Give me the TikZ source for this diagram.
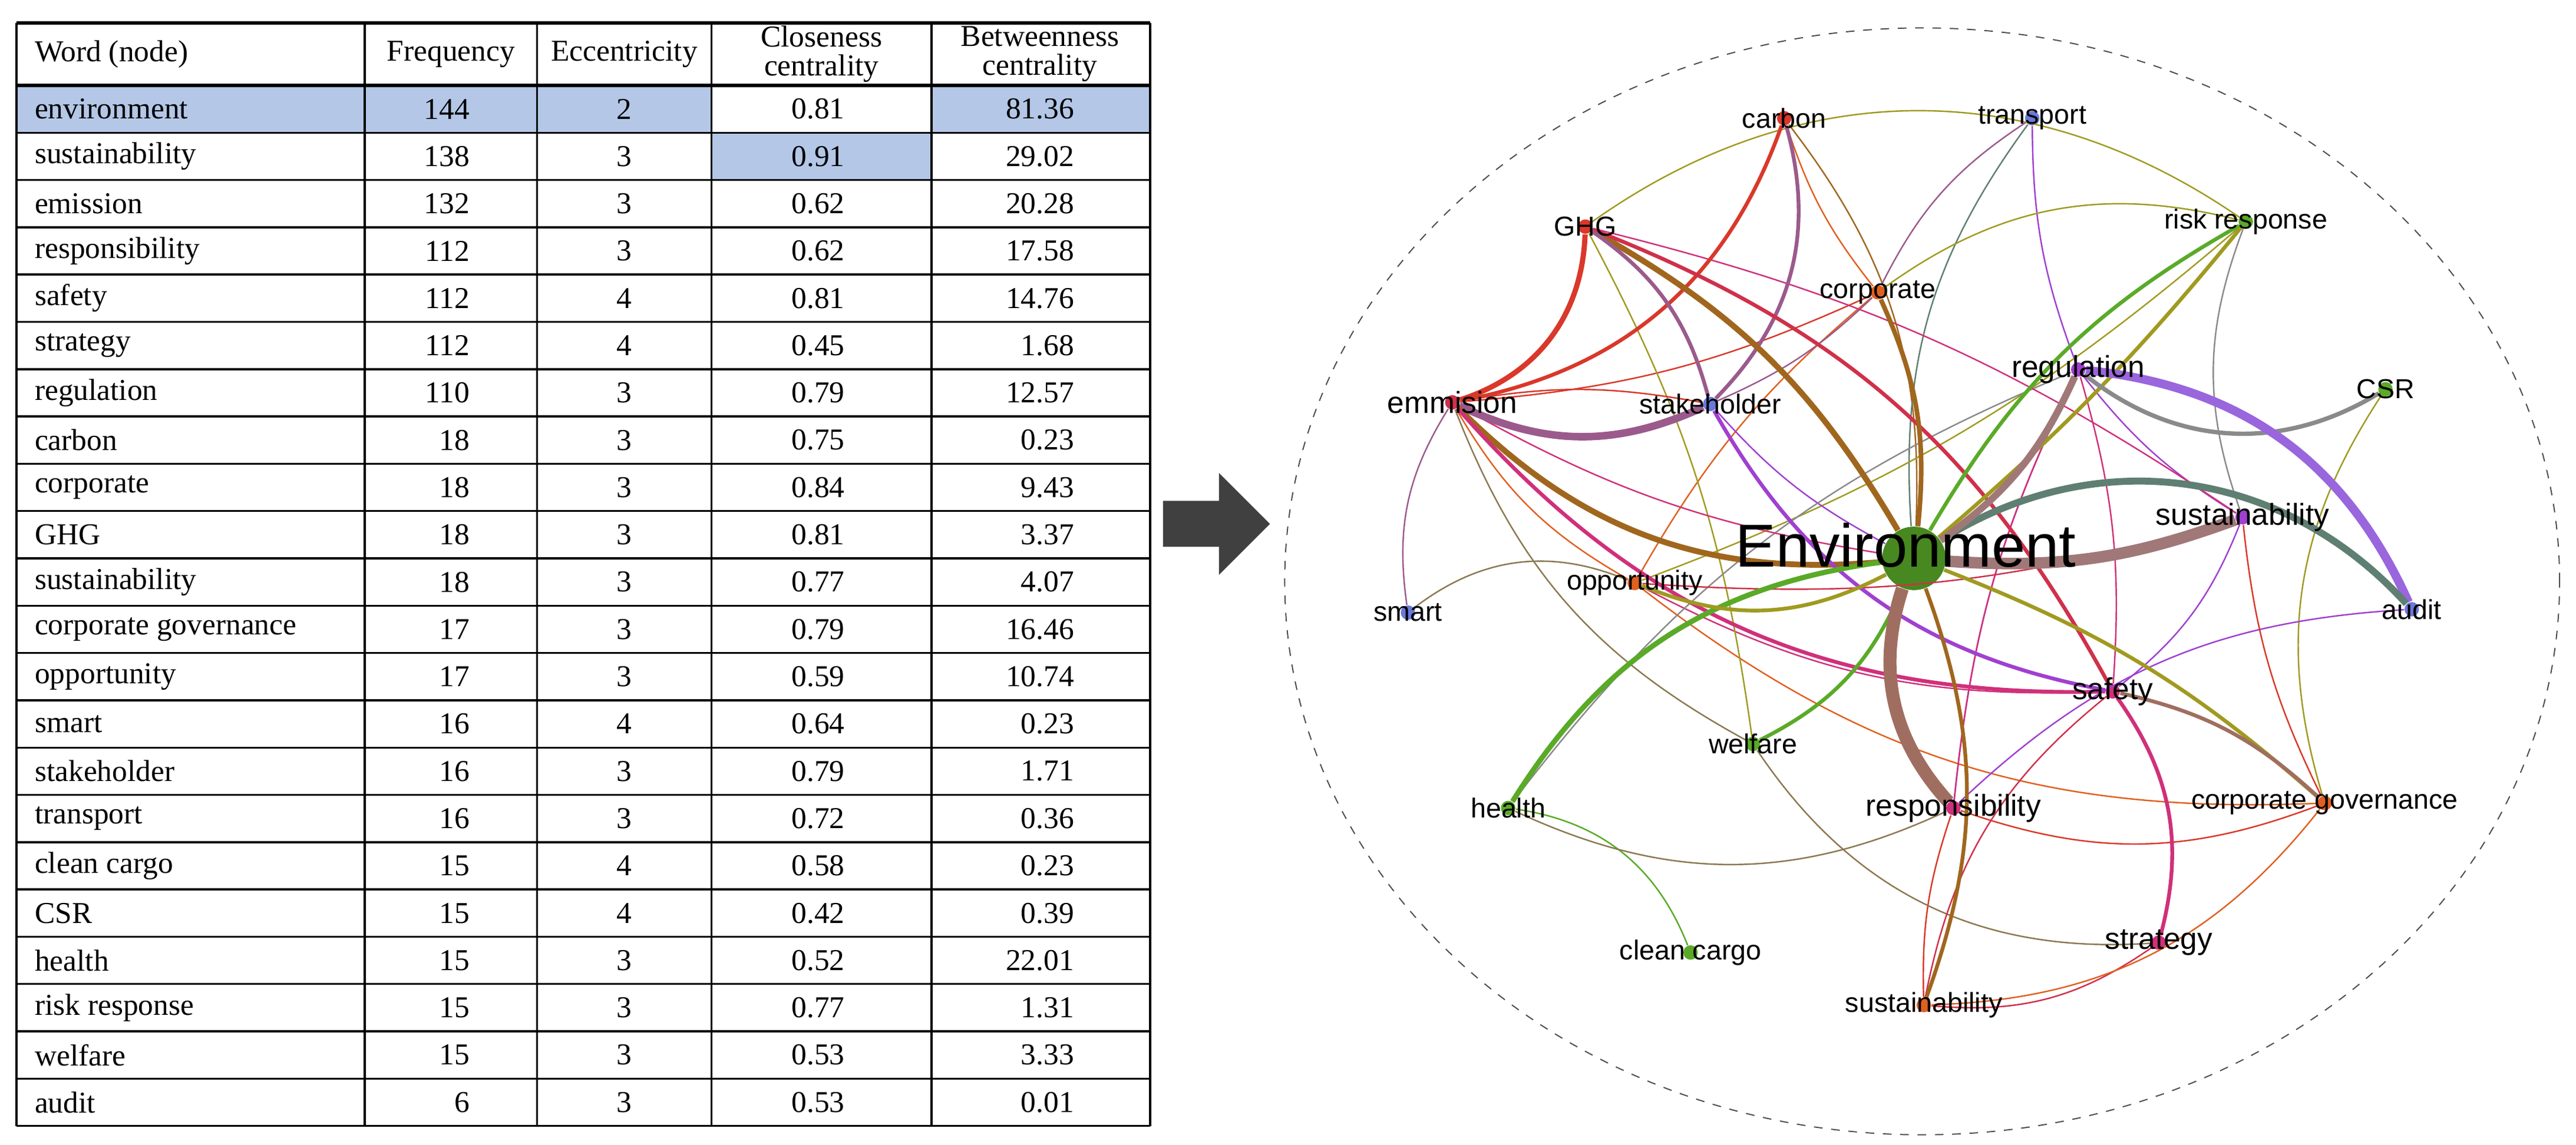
\documentclass[tikz,border=0pt]{standalone}
\usepackage{fontspec}
\setmainfont{Liberation Serif}
\newfontfamily\netfont{Liberation Sans}
\begin{document}
\begin{tikzpicture}[x=0.02cm,y=0.02cm,
  cell/.style={font=\fontsize{10.5}{12}\selectfont},
  dot/.style={circle,fill=#1,inner sep=0pt,minimum size=5pt},
  lbl/.style={font=\netfont\fontsize{9.5}{11}\selectfont,inner sep=0pt},
  e/.style={draw=#1,line width=0.5pt},
  E/.style={draw=#1,line width=1.3pt}]
\definecolor{hl}{HTML}{B4C7E7}
\definecolor{cred}{HTML}{D9382A}
\definecolor{ccrim}{HTML}{D0304A}
\definecolor{cbrown}{HTML}{A0661E}
\definecolor{cmauve}{HTML}{9B5A8C}
\definecolor{cpurp}{HTML}{9966DD}
\definecolor{cviol}{HTML}{A040D0}
\definecolor{cgreen}{HTML}{5AAA28}
\definecolor{colive}{HTML}{A09A20}
\definecolor{cgg}{HTML}{5F7F72}
\definecolor{cgray}{HTML}{8A8A8A}
\definecolor{ctan}{HTML}{8C7850}
\definecolor{cpink}{HTML}{D0307A}
\definecolor{corange}{HTML}{E06020}
\definecolor{crose}{HTML}{A07878}
\definecolor{crb}{HTML}{A06E60}
\definecolor{cblue}{HTML}{6A7ADA}
\useasboundingbox (0,0) rectangle (1568,697);
% ---------- table ----------
\fill[hl] (10,645) rectangle (567,616.2);
\fill[white] (433,645) rectangle (567,616.2);
\fill[hl] (567,645) rectangle (700,616.2);
\fill[hl] (433,616.2) rectangle (567,587.4);
\foreach \x in {10,222,327,433,567,700} \draw[line width=0.7pt] (\x,683) -- (\x,11.4);
\draw[line width=1.1pt] (10,683) -- (700,683);
\draw[line width=1.1pt] (10,645) -- (700,645);
\foreach \i in {1,...,22} \draw[line width=0.7pt] (10,{645-28.8*\i}) -- (700,{645-28.8*\i});
\node[cell,anchor=west] at (15,664) {Word (node)};
\node[cell] at (274.5,664) {Frequency};
\node[cell] at (380,664) {Eccentricity};
\node[cell,align=center] at (500,664) {Closeness\\[-2pt]centrality};
\node[cell,align=center] at (633,664) {Betweenness\\[-2pt]centrality};
\foreach [count=\i] \w/\f/\ec/\c/\b in {environment/144/2/0.81/81.36,sustainability/138/3/0.91/29.02,emission/132/3/0.62/20.28,responsibility/112/3/0.62/17.58,safety/112/4/0.81/14.76,strategy/112/4/0.45/1.68,regulation/110/3/0.79/12.57,carbon/18/3/0.75/0.23,corporate/18/3/0.84/9.43,GHG/18/3/0.81/3.37,sustainability/18/3/0.77/4.07,corporate governance/17/3/0.79/16.46,opportunity/17/3/0.59/10.74,smart/16/4/0.64/0.23,stakeholder/16/3/0.79/1.71,transport/16/3/0.72/0.36,clean cargo/15/4/0.58/0.23,CSR/15/4/0.42/0.39,health/15/3/0.52/22.01,risk response/15/3/0.77/1.31,welfare/15/3/0.53/3.33,audit/6/3/0.53/0.01}{
  \pgfmathsetmacro\yy{645-28.8*\i+14.4}
  \node[cell,anchor=west] at (15,\yy) {\w};
  \node[cell,anchor=east] at (292,\yy) {\f};
  \node[cell] at (380,\yy) {\ec};
  \node[cell] at (498,\yy) {\c};
  \node[cell,anchor=east] at (660,\yy) {\b};
}
% ---------- arrow ----------
\fill[black!75] (708,392) -- (742,392) -- (742,409) -- (773,378) -- (742,347) -- (742,364) -- (708,364) -- cycle;
% ---------- network ----------
\draw[dashed,line width=0.4pt,black!70] (1170,343) ellipse [x radius=388,y radius=337];
\node[dot=cred] (carbon) at (1086,625) {};
\node[dot=cblue] (transport) at (1237,625) {};
\node[dot=cred] (GHG) at (965,559) {};
\node[dot=cgreen] (risk) at (1367,562) {};
\node[dot=corange] (corporate) at (1143,519) {};
\node[dot=cviol] (regulation) at (1265,472) {};
\node[dot=cgreen] (CSR) at (1452,460) {};
\node[dot=ccrim] (emmision) at (884,452) {};
\node[dot=cblue] (stake) at (1041,451) {};
\node[circle,fill=cgreen!80!black,inner sep=0pt,minimum size=22pt] (env) at (1165,357) {};
\node[dot=cviol] (sust) at (1365,382) {};
\node[dot=corange] (opp) at (995,342) {};
\node[dot=cblue] (smart) at (857,324) {};
\node[dot=cblue] (audit) at (1468,326) {};
\node[dot=cpink] (safety) at (1286,276) {};
\node[dot=cgreen] (welfare) at (1067,244) {};
\node[dot=cgreen] (health) at (918,205) {};
\node[dot=cpink] (resp) at (1189,205) {};
\node[dot=corange] (cgov) at (1415,208) {};
\node[dot=cgreen] (clean) at (1029,117) {};
\node[dot=cpink] (strategy) at (1314,123) {};
\node[dot=corange] (sustb) at (1171,85) {};
% thin edges
\draw[e=colive] (GHG) to[bend left=35] (risk);
\draw[e=cbrown] (carbon) to[bend left=20] (env);
\draw[e=corange] (carbon) to[bend right=10] (corporate);
\draw[e=cgg] (transport) to[bend right=20] (env);
\draw[e=cviol] (transport) to[bend right=10] (regulation);
\draw[e=cmauve] (transport) to[bend right=15] (corporate);
\draw[e=colive] (risk) to[bend right=25] (corporate);
\draw[e=cgray] (risk) to[bend right=20] (sust);
\draw[e=colive] (risk) to[bend left=10] (opp);
\draw[e=colive] (CSR) to[bend right=25] (cgov);
\draw[e=cviol] (regulation) to[bend right=10] (sust);
\draw[e=cviol] (regulation) to[bend right=10] (resp);
\draw[e=cpink] (regulation) to[bend left=10] (safety);
\draw[e=corange] (corporate) to[bend right=10] (opp);
\draw[e=cred] (corporate) to[bend left=10] (emmision);
\draw[e=cmauve] (corporate) to[bend left=10] (stake);
\draw[e=cpink] (opp) to[bend right=15] (safety);
\draw[e=corange] (opp) to[bend right=20] (cgov);
\draw[e=cviol] (audit) to[bend right=20] (resp);
\draw[e=cviol] (sust) to[bend left=15] (safety);
\draw[e=cred] (sust) to[bend right=10] (cgov);
\draw[e=cred] (resp) to[bend right=20] (cgov);
\draw[e=ccrim] (sustb) to[bend right=20] (strategy);
\draw[e=corange] (sustb) to[bend right=25] (cgov);
\draw[e=cred] (resp) to[bend right=10] (sustb);
\draw[e=colive] (GHG) to[bend left=10] (welfare);
\draw[e=cviol] (stake) to[bend right=10] (env);
\draw[e=cgray] (health) to[bend left=15] (regulation);
\draw[e=cpink] (emmision) to[bend right=10] (env);
\draw[e=corange] (emmision) to[bend right=15] (opp);
\draw[e=ctan] (emmision) to[bend right=20] (welfare);
\draw[e=cmauve] (emmision) to[bend right=20] (smart);
\draw[e=ctan] (smart) to[bend left=30] (opp);
\draw[e=cgreen] (health) to[bend left=30] (clean);
\draw[e=ctan] (health) to[bend right=25] (resp);
\draw[e=ctan] (welfare) to[bend right=30] (strategy);
\draw[e=cpink] (GHG) to[bend left=10] (sust);
\draw[e=ccrim] (opp) to[bend right=10] (sust);
\draw[e=cpink] (resp) to[bend left=10] (regulation);
\draw[e=ccrim] (safety) to[bend right=20] (sustb);
\draw[e=cred] (emmision) to[bend left=10] (stake);
% thick edges
\draw[E=cred,line width=1.8pt] (emmision) to[bend right=35] (GHG);
\draw[E=cred] (emmision) to[bend right=30] (carbon);
\draw[E=cmauve,line width=2.6pt] (emmision) to[bend right=25] (stake);
\draw[E=cmauve] (carbon) to[bend left=30] (stake);
\draw[E=cbrown,line width=2pt] (GHG) to[bend left=15] (env);
\draw[E=cbrown,line width=2pt] (emmision) to[bend right=25] (env);
\draw[E=cpink] (emmision) to[bend right=25] (safety);
\draw[E=ccrim] (GHG) to[bend left=20] (safety);
\draw[E=cmauve] (GHG) to[bend left=20] (stake);
\draw[E=cviol] (stake) to[bend right=25] (safety);
\draw[E=cgreen] (risk) to[bend right=15] (env);
\draw[E=colive] (risk) to[bend left=5] (env);
\draw[E=cgreen,line width=1.8pt] (health) to[bend left=25] (env);
\draw[E=cgreen] (welfare) to[bend right=20] (env);
\draw[E=colive] (opp) to[bend right=25] (env);
\draw[E=cgray,line width=1.5pt] (regulation) to[bend right=35] (CSR);
\draw[E=cpurp,line width=3pt] (regulation) to[bend left=30] (audit);
\draw[E=cgg,line width=2.4pt] (env) to[bend left=40] (audit);
\draw[E=crose,line width=2.4pt] (env) to[bend right=15] (regulation);
\draw[E=crose,line width=4pt] (env) to[bend right=12] (sust);
\draw[E=crb,line width=4.5pt] (env) to[bend right=30] (resp);
\draw[E=colive] (env) to[bend left=10] (cgov);
\draw[E=cpink] (safety) to[bend left=25] (strategy);
\draw[E=crb] (safety) to[bend left=15] (cgov);
\draw[E=cbrown,line width=1.6pt] (corporate) to[bend left=15] (env);
\draw[E=cbrown] (env) to[bend left=20] (sustb);
% labels
\node[lbl] at (carbon) {carbon};
\node[lbl] at (transport) {transport};
\node[lbl] at (GHG) {GHG};
\node[lbl] at (risk) {risk response};
\node[lbl] at (corporate) {corporate};
\node[lbl,font=\netfont\fontsize{10.5}{12}\selectfont] at (regulation) {regulation};
\node[lbl] at (CSR) {CSR};
\node[lbl,font=\netfont\fontsize{10.5}{12}\selectfont] at (emmision) {emmision};
\node[lbl] at (stake) {stakeholder};
\node[lbl,font=\netfont\fontsize{21}{24}\selectfont] at (1160,365) {Environment};
\node[lbl,font=\netfont\fontsize{10.5}{12}\selectfont] at (sust) {sustainability};
\node[lbl] at (opp) {opportunity};
\node[lbl] at (smart) {smart};
\node[lbl] at (audit) {audit};
\node[lbl,font=\netfont\fontsize{10.5}{12}\selectfont] at (safety) {safety};
\node[lbl] at (welfare) {welfare};
\node[lbl] at (health) {health};
\node[lbl,font=\netfont\fontsize{10.5}{12}\selectfont] at (resp) {responsibility};
\node[lbl] at (cgov) {corporate governance};
\node[lbl] at (clean) {clean cargo};
\node[lbl,font=\netfont\fontsize{10.5}{12}\selectfont] at (strategy) {strategy};
\node[lbl] at (sustb) {sustainability};
\end{tikzpicture}
\end{document}
